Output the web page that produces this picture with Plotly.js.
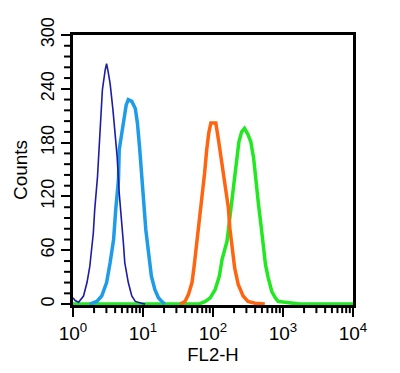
<!DOCTYPE html>
<html>
<head>
<meta charset="utf-8">
<script src="https://cdn.plot.ly/plotly-3.0.1.min.js"></script>
<style>html,body{margin:0;padding:0;background:#fff;}#chart{width:400px;height:373px;}</style>
</head>
<body>
<div id="chart"></div>
<script>
// FL2-H positions given in decades (log10 of channel value), counts
const darkBlueLog = [0.00,0.03,0.08,0.15,0.20,0.24,0.29,0.31,0.35,0.38,0.40,0.42,0.46,0.48,0.50,0.53,0.57,0.60,0.63,0.66,0.69,0.72,0.74,0.79,0.84,0.89,0.98,1.03];
const darkBlueCounts = [7,4,2,9,24,42,79,105,142,180,209,239,261,268,260,246,217,191,165,124,90,68,46,24,9,3,1,0];

const lightBlueLog = [0.24,0.34,0.41,0.48,0.53,0.58,0.61,0.65,0.66,0.70,0.73,0.76,0.79,0.84,0.89,0.92,0.95,0.98,1.01,1.04,1.08,1.12,1.17,1.22,1.27,1.31];
const lightBlueCounts = [0,3,9,24,46,72,105,139,172,191,209,222,228,226,218,202,176,142,113,83,57,31,16,7,3,0];

const orangeLog = [1.53,1.60,1.65,1.70,1.73,1.77,1.80,1.84,1.88,1.91,1.94,1.97,2.04,2.08,2.12,2.17,2.22,2.24,2.28,2.31,2.36,2.43,2.50,2.60,2.74];
const orangeCounts = [0,3,11,24,42,68,94,116,146,172,191,202,202,182,162,137,107,85,63,40,22,9,3,1,0];

const greenLog = [0.00,1.80,1.89,1.96,2.03,2.09,2.13,2.20,2.24,2.28,2.30,2.34,2.37,2.41,2.45,2.50,2.54,2.58,2.61,2.65,2.69,2.72,2.75,2.79,2.84,2.89,2.93,3.03,3.13,3.24,4.00];
const greenCounts = [0,0,3,7,16,31,50,70,96,122,141,163,181,192,196,189,181,163,137,111,85,63,44,29,14,7,3,2,1,0,0];

const xTickVals = [1,10,100,1000,10000];
const xTickText = ['10<sup>0</sup>','10<sup>1</sup>','10<sup>2</sup>','10<sup>3</sup>','10<sup>4</sup>'];
const yTickVals = [0,60,120,180,240,300];

const toVal = a => a.map(v => Math.pow(10, v));

const ink = '#000000';
const fam = 'Liberation Sans';

// minor tick marks as shapes placed through the axes
const shapes = [];
[1,10,100,1000].forEach(d => {
  for (let k = 2; k <= 9; k++) {
    shapes.push({type: 'line', xref: 'x', yref: 'paper', x0: k * d, x1: k * d, y0: 0, y1: -0.03, line: {color: ink, width: 2}});
  }
});
for (let v = 12; v < 300; v += 12) {
  if (v % 60 === 0) continue;
  shapes.push({type: 'line', xref: 'paper', yref: 'y', x0: 0, x1: -0.032, y0: v, y1: v, line: {color: ink, width: 2}});
}

const traces = [
  {x: toVal(greenLog), y: greenCounts, mode: 'lines', line: {color: '#22e822', width: 3.5}},
  {x: toVal(orangeLog), y: orangeCounts, mode: 'lines', line: {color: '#ff6510', width: 3.5}},
  {x: toVal(lightBlueLog), y: lightBlueCounts, mode: 'lines', line: {color: '#1e9ce8', width: 3.5}},
  {x: toVal(darkBlueLog), y: darkBlueCounts, mode: 'lines', line: {color: '#1c1ca6', width: 1.6}}
];

const layout = {
  width: 400, height: 373,
  margin: {l: 73, r: 47, t: 35, b: 68},
  showlegend: false,
  shapes: shapes,
  xaxis: {
    type: 'log', range: [0, 4],
    tickmode: 'array', tickvals: xTickVals, ticktext: xTickText,
    ticks: 'outside', ticklen: 9, tickwidth: 2, tickcolor: ink,
    showline: true, linecolor: ink, linewidth: 3, mirror: true,
    showgrid: false, zeroline: false,
    tickfont: {size: 19, color: ink, family: fam},
    title: {text: 'FL2-H', font: {size: 18.5, color: ink, family: fam}, standoff: 2}
  },
  yaxis: {
    range: [-1, 300],
    tickmode: 'array', tickvals: yTickVals,
    ticks: 'outside', ticklen: 9, tickwidth: 2, tickcolor: ink,
    showline: true, linecolor: ink, linewidth: 3, mirror: true,
    showgrid: false, zeroline: false,
    tickangle: -90,
    tickfont: {size: 18, color: ink, family: fam},
    title: {text: 'Counts', font: {size: 19, color: ink, family: fam}, standoff: 6}
  }
};

Plotly.newPlot('chart', traces, layout, {displayModeBar: false});
</script>
</body>
</html>
